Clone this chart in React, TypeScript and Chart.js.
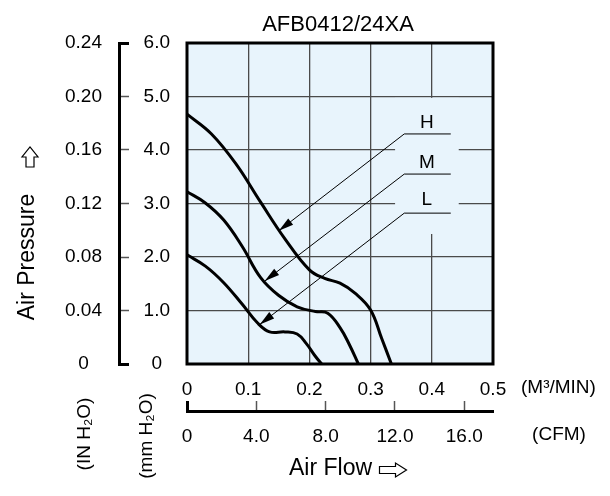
import { useEffect, useRef } from "react";
import { Chart, registerables } from "chart.js";

Chart.register(...registerables);

// P-Q curves, flow in M3/MIN, pressure in mm H2O
const flowH = [0, 0.04, 0.08, 0.12, 0.16, 0.2, 0.225, 0.25, 0.275, 0.3, 0.318, 0.334];
const pressureH = [4.67, 4.3, 3.74, 3.03, 2.34, 1.76, 1.6, 1.51, 1.32, 1.01, 0.48, 0];

const flowM = [0, 0.03, 0.06, 0.09, 0.12, 0.15, 0.18, 0.21, 0.23, 0.25, 0.265, 0.28];
const pressureM = [3.22, 3.01, 2.69, 2.2, 1.62, 1.28, 1.07, 0.98, 0.95, 0.68, 0.37, 0];

const flowL = [0, 0.03, 0.06, 0.09, 0.115, 0.135, 0.16, 0.18, 0.195, 0.21, 0.22];
const pressureL = [2.04, 1.83, 1.52, 1.12, 0.77, 0.6, 0.6, 0.56, 0.38, 0.14, 0];

const curveNames = ["H", "M", "L"];

// leader lines from the H/M/L labels to the curves
const leaderStartFlow = 0.431;
const leaderKneeFlow = 0.355;
const leaderPressure = [4.3, 3.55, 2.82];
const leaderTipFlow = [0.15, 0.127, 0.119];
const leaderTipPressure = [2.49, 1.55, 0.74];
const labelFlow = 0.392;
const labelPressure = [4.5, 3.76, 3.07];

// ticks
const flowTicks = [0, 0.1, 0.2, 0.3, 0.4, 0.5];
const flowLabels = ["0", "0.1", "0.2", "0.3", "0.4", "0.5"];
const cfmTicks = [0, 4, 8, 12, 16];
const cfmLabels = ["0", "4.0", "8.0", "12.0", "16.0"];
const mmTicks = [0, 1, 2, 3, 4, 5, 6];
const mmLabels = ["0", "1.0", "2.0", "3.0", "4.0", "5.0", "6.0"];
const inTicks = [0, 0.04, 0.08, 0.12, 0.16, 0.2, 0.24];
const inLabels = ["0", "0.04", "0.08", "0.12", "0.16", "0.20", "0.24"];

const CFM_PER_M3MIN = 35.3147;
const FONT = "'Liberation Sans', Arial, sans-serif";
const BG = "#e8f4fc";
const GRID = "#4a4a4a";

function hollowArrow(ctx: CanvasRenderingContext2D, cx: number, cy: number, angle: number, len: number, headLen: number, headW: number, shaftW: number) {
  ctx.save();
  ctx.translate(cx, cy);
  ctx.rotate(angle);
  const a = len / 2;
  ctx.beginPath();
  ctx.moveTo(-a, -shaftW / 2);
  ctx.lineTo(a - headLen, -shaftW / 2);
  ctx.lineTo(a - headLen, -headW / 2);
  ctx.lineTo(a, 0);
  ctx.lineTo(a - headLen, headW / 2);
  ctx.lineTo(a - headLen, shaftW / 2);
  ctx.lineTo(-a, shaftW / 2);
  ctx.closePath();
  ctx.fillStyle = "#fff";
  ctx.fill();
  ctx.strokeStyle = "#000";
  ctx.lineWidth = 1.2;
  ctx.stroke();
  ctx.restore();
}

const decor = {
  id: "decor",
  beforeDraw(chart: any) {
    const { ctx, chartArea: a } = chart;
    ctx.save();
    ctx.fillStyle = BG;
    ctx.fillRect(a.left, a.top, a.right - a.left, a.bottom - a.top);
    ctx.restore();
  },
  beforeDatasetsDraw(chart: any) {
    // clear the grid behind the H/M/L labels
    const { ctx } = chart;
    const x = chart.scales.x;
    const y = chart.scales.y;
    const x0 = x.getPixelForValue(0.34);
    const x1 = x.getPixelForValue(0.444);
    const y0 = y.getPixelForValue(4.975);
    const y1 = y.getPixelForValue(2.43);
    ctx.save();
    ctx.fillStyle = BG;
    ctx.fillRect(x0, y0, x1 - x0, y1 - y0);
    ctx.restore();
  },
  afterDatasetsDraw(chart: any) {
    const { ctx, chartArea: a } = chart;
    const x = chart.scales.x;
    const y = chart.scales.y;
    ctx.save();
    // arrow heads on the leader lines
    for (let i = 0; i < 3; i++) {
      const pts = chart.getDatasetMeta(3 + i).data;
      const p1 = pts[1];
      const p2 = pts[2];
      const ang = Math.atan2(p2.y - p1.y, p2.x - p1.x);
      const L = 15;
      const W = 4;
      ctx.beginPath();
      ctx.moveTo(p2.x, p2.y);
      ctx.lineTo(p2.x - L * Math.cos(ang) + W * Math.sin(ang), p2.y - L * Math.sin(ang) - W * Math.cos(ang));
      ctx.lineTo(p2.x - L * Math.cos(ang) - W * Math.sin(ang), p2.y - L * Math.sin(ang) + W * Math.cos(ang));
      ctx.closePath();
      ctx.fillStyle = "#000";
      ctx.fill();
    }
    // labels
    ctx.fillStyle = "#000";
    ctx.font = `19px ${FONT}`;
    ctx.textAlign = "center";
    ctx.textBaseline = "middle";
    curveNames.forEach((n, i) => {
      ctx.fillText(n, x.getPixelForValue(labelFlow), y.getPixelForValue(labelPressure[i]));
    });
    // frame
    ctx.strokeStyle = "#000";
    ctx.lineWidth = 3;
    ctx.strokeRect(a.left, a.top, a.right - a.left, a.bottom - a.top);
    ctx.restore();
  },
  afterDraw(chart: any) {
    const { ctx } = chart;
    ctx.save();
    ctx.fillStyle = "#000";
    ctx.textBaseline = "middle";
    ctx.font = `22px ${FONT}`;
    ctx.textAlign = "center";
    ctx.fillText("AFB0412/24XA", 338, 25);
    ctx.font = `19px ${FONT}`;
    ctx.textAlign = "left";
    ctx.fillText("(M\u00B3/MIN)", 521, 388);
    ctx.textAlign = "center";
    ctx.fillText("(CFM)", 559, 435);

    const vtext = (t: string, cx: number, cy: number) => {
      ctx.save();
      ctx.translate(cx, cy);
      ctx.rotate(-Math.PI / 2);
      ctx.fillText(t, 0, 0);
      ctx.restore();
    };
    vtext("(IN H\u2082O)", 85, 434);
    vtext("(mm H\u2082O)", 147, 436);

    ctx.font = `23px ${FONT}`;
    vtext("Air Pressure", 28, 257);
    ctx.textAlign = "left";
    ctx.fillText("Air Flow", 289, 469);
    ctx.restore();

    hollowArrow(ctx, 393, 470, 0, 27, 11, 14, 7);
    hollowArrow(ctx, 30, 157, -Math.PI / 2, 20, 10, 16, 8);
  },
};

const tickFont = { family: FONT, size: 19 };

export default function App() {
  const canvasRef = useRef<HTMLCanvasElement>(null);
  const chartRef = useRef<Chart | null>(null);

  useEffect(() => {
    if (!canvasRef.current) return;
    if (chartRef.current) chartRef.current.destroy();

    const curve = (fx: number[], py: number[]) => ({
      data: fx.map((v, i) => ({ x: v, y: py[i] })),
      borderColor: "#000",
      borderWidth: 3,
      pointRadius: 0,
      tension: 0.4,
      fill: false,
    });
    const leader = (i: number) => ({
      data: [
        { x: leaderStartFlow, y: leaderPressure[i] },
        { x: leaderKneeFlow, y: leaderPressure[i] },
        { x: leaderTipFlow[i], y: leaderTipPressure[i] },
      ],
      borderColor: "#000",
      borderWidth: 1,
      pointRadius: 0,
      tension: 0,
      fill: false,
    });

    chartRef.current = new Chart(canvasRef.current, {
      type: "line",
      data: {
        datasets: [
          curve(flowH, pressureH),
          curve(flowM, pressureM),
          curve(flowL, pressureL),
          leader(0),
          leader(1),
          leader(2),
        ] as any,
      },
      options: {
        responsive: false,
        animation: false,
        events: [],
        layout: { padding: { left: 59, right: 117, top: 43, bottom: 45 } },
        plugins: {
          legend: { display: false },
          tooltip: { enabled: false },
        },
        scales: {
          x: {
            type: "linear",
            position: "bottom",
            weight: 0,
            min: 0,
            max: 0.5,
            afterBuildTicks: (s: any) => {
              s.ticks = flowTicks.map((v) => ({ value: v }));
            },
            afterFit: (s: any) => {
              s.height = 47;
            },
            ticks: {
              callback: (_v: any, i: number) => flowLabels[i],
              font: tickFont,
              color: "#000",
              padding: 14,
              maxRotation: 0,
            },
            grid: { color: GRID, lineWidth: 1.3, drawTicks: false },
            border: { display: false },
          },
          xCfm: {
            type: "linear",
            position: "bottom",
            weight: 1,
            min: 0,
            max: 0.5 * CFM_PER_M3MIN,
            afterBuildTicks: (s: any) => {
              s.ticks = cfmTicks.map((v) => ({ value: v }));
            },
            afterFit: (s: any) => {
              s.height = 40;
            },
            ticks: {
              callback: (_v: any, i: number) => cfmLabels[i],
              font: tickFont,
              color: "#000",
              padding: 24,
              maxRotation: 0,
            },
            grid: {
              drawOnChartArea: false,
              drawTicks: true,
              tickLength: -10,
              tickColor: (c: any) => (c.index === 0 ? "#000" : "#555"),
              tickWidth: (c: any) => (c.index === 0 ? 3 : 1.5),
            },
            border: { display: true, color: "#000", width: 3 },
          },
          y: {
            type: "linear",
            position: "left",
            weight: 0,
            min: 0,
            max: 6,
            afterBuildTicks: (s: any) => {
              s.ticks = mmTicks.map((v) => ({ value: v }));
            },
            afterFit: (s: any) => {
              s.width = 68;
            },
            ticks: {
              callback: (_v: any, i: number) => mmLabels[i],
              font: tickFont,
              color: "#000",
              padding: 17,
              crossAlign: "center",
            },
            grid: { color: GRID, lineWidth: 1.3, drawTicks: false },
            border: { display: false },
          },
          yIn: {
            type: "linear",
            position: "left",
            weight: 1,
            min: 0,
            max: 0.24,
            afterBuildTicks: (s: any) => {
              s.ticks = inTicks.map((v) => ({ value: v }));
            },
            afterFit: (s: any) => {
              s.width = 60;
            },
            ticks: {
              callback: (_v: any, i: number) => inLabels[i],
              font: tickFont,
              color: "#000",
              padding: 27,
              crossAlign: "center",
            },
            grid: {
              drawOnChartArea: false,
              drawTicks: true,
              tickLength: -10,
              tickColor: (c: any) => (c.index === 0 || c.index === inTicks.length - 1 ? "#000" : "#555"),
              tickWidth: (c: any) => (c.index === 0 || c.index === inTicks.length - 1 ? 3 : 1.5),
            },
            border: { display: true, color: "#000", width: 3 },
          },
        },
      } as any,
      plugins: [decor],
    });

    return () => {
      if (chartRef.current) {
        chartRef.current.destroy();
        chartRef.current = null;
      }
    };
  }, []);

  return (
    <div style={{ position: "absolute", left: 0, top: 0, width: 610, height: 496, background: "#fff" }}>
      <canvas ref={canvasRef} width={610} height={496} />
    </div>
  );
}
